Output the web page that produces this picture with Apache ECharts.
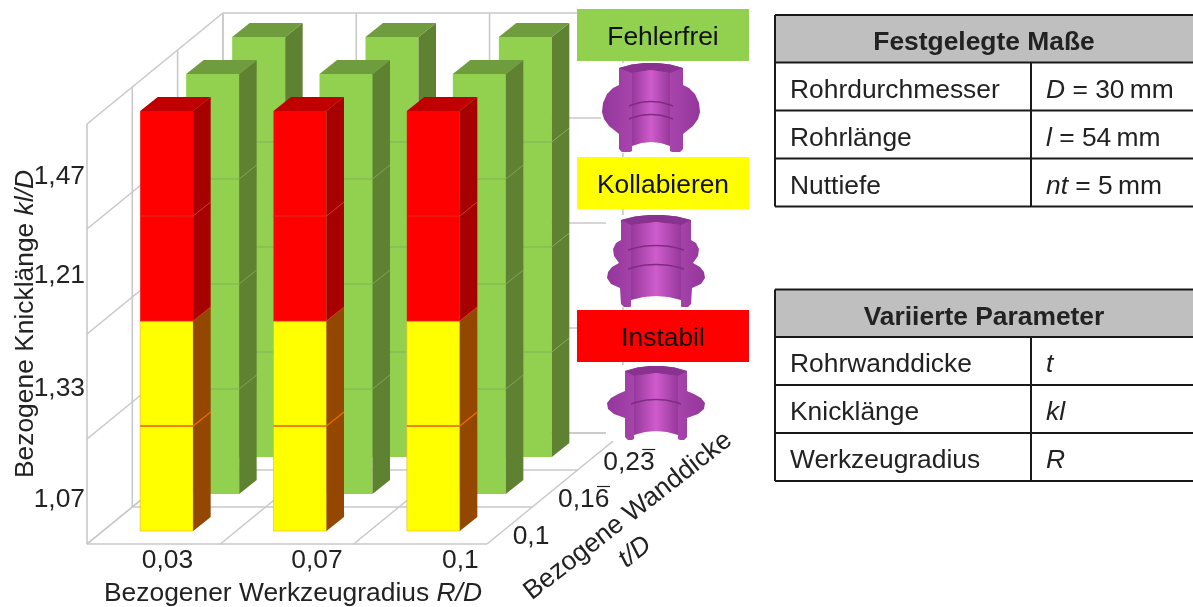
<!DOCTYPE html>
<html>
<head>
<meta charset="utf-8">
<style>
  html, body { margin: 0; padding: 0; background: #fff; }
  #chart { width: 1193px; height: 607px; }
</style>
<script src="https://cdn.jsdelivr.net/npm/echarts@6/dist/echarts.min.js"></script>
</head>
<body>
<div id="chart"></div>
<script>
const radiusLabels = ['0,03', '0,07', '0,1']
const thicknessLabels = ['0,1', '0,16', '0,23']
const thicknessOverbar = [false, true, true]
const lengthLabels = ['1,07', '1,33', '1,21', '1,47']

// Zustand je Knicklänge (von unten nach oben), eine Liste je Wanddicke
const thick010 = ['Kollabieren', 'Kollabieren', 'Instabil', 'Instabil']
const thick016 = ['Fehlerfrei', 'Fehlerfrei', 'Fehlerfrei', 'Fehlerfrei']
const thick023 = ['Fehlerfrei', 'Fehlerfrei', 'Fehlerfrei', 'Fehlerfrei']
const stateRows = [thick010, thick016, thick023]

const fixedTitle = 'Festgelegte Maße'
const fixedNames = ['Rohrdurchmesser', 'Rohrlänge', 'Nuttiefe']
const fixedSymbols = ['D', 'l', 'nt']
const fixedValues = [' = 30\u2009mm', ' = 54\u2009mm', ' = 5\u2009mm']
const variedTitle = 'Variierte Parameter'
const variedNames = ['Rohrwanddicke', 'Knicklänge', 'Werkzeugradius']
const variedSymbols = ['t', 'kl', 'R']

const FONT = '"Liberation Sans", Arial, sans-serif'
const FS = 26.4
const TEXT = '#222'
const GRID = '#c9c9c9'

// Beschriftung sitzt im Original versetzt zu den Zellen
const radiusLabelPos = [0.104, 1.225, 2.3]
const lengthLabelPos = [0.419, 1.476, 2.552, 3.495]

const colors = {
  Fehlerfrei: { front: '#92d050', side: '#5f8232', top: '#6f9c3c', edge: '#7fa95a', stroke: 'none' },
  Kollabieren: { front: '#ffff00', side: '#934700', top: '#934700', edge: '#e86a00', stroke: '#f6a93a' },
  Instabil: { front: '#ff0000', side: '#a60000', top: '#c00000', edge: '#d8382a', stroke: 'none' }
}

// Schrägbild: Versatz je Tiefenschritt
const wallDx = 45.3, wallDy = 37
const barDx = 46, barDy = 37, barFrontDx = 13, barFrontDy = 13
const barW = 53, barSideDx = 17.5, barSideDy = 14

const barData = []
for (let row = stateRows.length - 1; row >= 0; row--) {
  radiusLabels.forEach((r, col) => {
    stateRows[row].forEach((state, level) => barData.push([col, level, row]))
  })
}

const renderBar = (params, api) => {
  const col = api.value(0), level = api.value(1), row = api.value(2)
  const state = stateRows[row][level]
  const c = colors[state]
  const base = api.coord([col, level])
  const upper = api.coord([col, level + 1])
  const left = base[0] + barFrontDx + row * barDx - barW / 2
  const right = left + barW
  const shift = barFrontDy + row * barDy
  const y0 = base[1] - shift, y1 = upper[1] - shift
  const children = [
    { type: 'rect', shape: { x: left, y: y1, width: barW, height: y0 - y1 }, style: { fill: c.front, stroke: c.stroke, lineWidth: 0.6 } },
    { type: 'polygon', shape: { points: [[right, y0], [right + barSideDx, y0 - barSideDy], [right + barSideDx, y1 - barSideDy], [right, y1]] }, style: { fill: c.side } }
  ]
  if (level > 0) {
    children.push({ type: 'polyline', shape: { points: [[left, y0], [right, y0], [right + barSideDx, y0 - barSideDy]] }, style: { stroke: c.edge, fill: 'none', lineWidth: state === 'Kollabieren' ? 1.4 : 1, opacity: state === 'Kollabieren' ? 1 : 0.8 } })
  }
  if (level === stateRows[row].length - 1) {
    children.push({ type: 'polygon', shape: { points: [[left, y1], [left + barSideDx, y1 - barSideDy], [right + barSideDx, y1 - barSideDy], [right, y1]] }, style: { fill: c.top } })
  }
  return { type: 'group', children }
}

// Wände und Boden des 3D-Rahmens
const renderFrame = (params, api) => {
  const lines = []
  const seg = (a, b) => lines.push({ type: 'line', shape: { x1: a[0], y1: a[1], x2: b[0], y2: b[1] }, style: { stroke: GRID, lineWidth: 1.6 } })
  const depth = stateRows.length
  const backDx = depth * wallDx, backDy = depth * wallDy
  const o = api.coord([-0.5, 0]), r = api.coord([radiusLabels.length - 0.5, 0])
  for (let lv = 0; lv <= lengthLabels.length; lv++) {
    const p = api.coord([-0.5, lv])
    seg(p, [p[0] + backDx, p[1] - backDy])
    seg([p[0] + backDx, p[1] - backDy], [r[0] + backDx, p[1] - backDy])
  }
  const top = api.coord([-0.5, lengthLabels.length])
  for (let d = 0; d <= depth; d++) {
    seg([o[0] + d * wallDx, o[1] - d * wallDy], [o[0] + d * wallDx, top[1] - d * wallDy])
    seg([o[0] + d * wallDx, o[1] - d * wallDy], [r[0] + d * wallDx, o[1] - d * wallDy])
  }
  for (let c = 0; c <= radiusLabels.length; c++) {
    const b = api.coord([c - 0.5, 0])
    seg(b, [b[0] + backDx, b[1] - backDy])
    seg([b[0] + backDx, b[1] - backDy], [b[0] + backDx, top[1] - backDy])
  }
  return { type: 'group', children: lines }
}

const renderDepthLabel = (params, api) => {
  const row = api.value(0)
  const r = api.coord([radiusLabels.length - 0.5, 0])
  const x = r[0] + (row + 0.5) * wallDx + 3
  const y = r[1] - (row + 0.5) * wallDy + 11
  const children = [{
    type: 'text',
    style: { x, y, text: thicknessLabels[row], font: `${FS}px ${FONT}`, fill: TEXT, align: 'left', verticalAlign: 'middle' }
  }]
  // Periodenstrich über der letzten Ziffer
  if (thicknessOverbar[row]) {
    children.push({ type: 'line', shape: { x1: x + 39, y1: y - 13, x2: x + 52, y2: y - 13 }, style: { stroke: TEXT, lineWidth: 1.2 } })
  }
  return { type: 'group', children }
}

const richStyles = {
  i: { fontFamily: FONT, fontSize: FS, fontStyle: 'italic', fill: TEXT },
  n: { fontFamily: FONT, fontSize: FS, fill: TEXT }
}
const txt = (x, y, text, extra = {}) => ({
  type: 'text', x, y: y + 3, z: 20,
  style: Object.assign({
    text, fontFamily: FONT, fontSize: FS, fill: TEXT, verticalAlign: 'middle', align: 'left', rich: richStyles
  }, extra)
})
const hline = (x1, x2, y, w = 2) => ({ type: 'line', z: 20, shape: { x1, y1: y, x2, y2: y }, style: { stroke: '#1a1a1a', lineWidth: w } })
const vline = (x, y1, y2, w = 2) => ({ type: 'line', z: 20, shape: { x1: x, y1, x2: x, y2 }, style: { stroke: '#1a1a1a', lineWidth: w } })

const buildTable = (top, title, names, symbols, values) => {
  const left = 775, mid = 1031, right = 1193, head = 47.5, rowH = 48
  const bottom = top + head + rowH * names.length
  const els = [
    { type: 'rect', z: 19, shape: { x: left, y: top, width: right - left, height: head }, style: { fill: '#bfbfbf' } },
    txt(984, top + head / 2 + 1, title, { fontWeight: 'bold', align: 'center' }),
    vline(left, top, bottom), vline(mid, top + head, bottom), hline(left, right, top), hline(left, right, top + head)
  ]
  names.forEach((name, i) => {
    const y = top + head + rowH * i
    els.push(hline(left, right, y + rowH))
    els.push(txt(790, y + rowH / 2 + 1, name))
    els.push(txt(1046, y + rowH / 2 + 1, `{i|${symbols[i]}}{n|${values ? values[i] : ''}}`))
  })
  return els
}

const legendBox = (y, label, fill) => [
  { type: 'rect', z: 18, shape: { x: 577, y, width: 172, height: 52 }, style: { fill } },
  txt(663, y + 26, label, { align: 'center', fill: '#111' })
]

// Schnittbild des Rohrs, symmetrisch um cx
const mirror = (cx, pts) => pts.concat(pts.slice().reverse().map(p => [2 * cx - p[0], p[1]]))

const tubeIcon = (cx, bg, halfOuter, halfInner, topY, bottomY, outline, seams) => {
  const hGrad = (a, b) => ({ type: 'linear', x: 0, y: 0, x2: 1, y2: 0, colorStops: [{ offset: 0, color: a }, { offset: 0.5, color: b }, { offset: 1, color: a }] })
  const els = [{ type: 'rect', z: 16, shape: { x: cx - 50, y: bg[0], width: 104, height: bg[1] - bg[0] }, style: { fill: '#fff' } }]
  const top = [[cx - halfOuter, topY + 5], [cx - halfOuter * 0.6, topY + 1.5], [cx - halfOuter * 0.2, topY]]
  els.push({ type: 'polygon', z: 17, shape: { points: mirror(cx, outline.slice().reverse().concat(top)) }, style: { fill: hGrad('#93369a', '#b64fba') } })
  els.push({ type: 'polygon', z: 17, shape: { points: mirror(cx, top.concat([])).concat([[cx + halfInner, topY + 10], [cx, topY + 7], [cx - halfInner, topY + 10]]) }, style: { fill: '#8a3290' } })
  els.push({ type: 'polygon', z: 17, shape: { points: [[cx - halfInner, topY + 10], [cx, topY + 7], [cx + halfInner, topY + 10], [cx + halfInner, bottomY + 1], [cx, bottomY - 3], [cx - halfInner, bottomY + 1]] }, style: { fill: hGrad('#96389c', '#cf5ccc') } })
  // weißer Ausschnitt unten
  els.push({ type: 'polygon', z: 17, shape: { points: [[cx - halfInner, bottomY - 1], [cx - halfInner * 0.5, bottomY - 4], [cx, bottomY - 5], [cx + halfInner * 0.5, bottomY - 4], [cx + halfInner, bottomY - 1], [cx + halfInner, bottomY + 7], [cx - halfInner, bottomY + 7]] }, style: { fill: '#fff' } })
  seams.forEach(y => {
    els.push({ type: 'polyline', z: 17, shape: { points: [[cx - halfInner - 3, y + 4], [cx - halfInner * 0.4, y], [cx + halfInner * 0.4, y], [cx + halfInner + 3, y + 4]], smooth: 0.4 }, style: { stroke: '#7e2b84', fill: 'none', lineWidth: 1.4 } })
  })
  return els
}

const graphics = [
  ...legendBox(9, 'Fehlerfrei', '#92d050'),
  ...legendBox(157, 'Kollabieren', '#ffff00'),
  ...legendBox(310, 'Instabil', '#ff0000'),
  ...tubeIcon(651, [63, 153], 32, 19, 63, 147,
    [[619, 72], [619, 85], [613, 88], [607, 94], [603, 103], [602, 112], [604, 119], [609, 126], [614, 130], [619, 134], [619, 149], [622, 152], [630, 152], [632, 151]], [102, 115]),
  ...tubeIcon(656, [215, 307], 35, 25, 215, 301,
    [[621, 224], [621, 240], [616, 243], [613, 249], [614, 256], [619, 263], [612, 267], [608, 272], [607, 278], [611, 284], [620, 288], [621, 304], [624, 307], [630, 307], [632, 306]], [246, 265]),
  ...tubeIcon(656, [365, 441], 31, 22, 366, 436,
    [[625, 376], [625, 391], [618, 394], [611, 398], [607, 403], [608, 409], [614, 414], [625, 418], [625, 437], [628, 440], [632, 440], [634, 439]], [400])
]
const tableEls = [
  ...buildTable(15, fixedTitle, fixedNames, fixedSymbols, fixedValues),
  ...buildTable(289.5, variedTitle, variedNames, variedSymbols, null),
  txt(104, 591, '{n|Bezogener Werkzeugradius }{i|R/D}'),
  Object.assign(txt(26, 321, '{n|Bezogene Knicklänge }{i|kl/D}', { align: 'center' }), { rotation: Math.PI / 2 }),
  Object.assign(txt(628, 513, '{n|Bezogene Wanddicke}', { align: 'center' }), { rotation: 38 * Math.PI / 180 }),
  Object.assign(txt(635, 549, '{i|t/D}', { align: 'center' }), { rotation: 38 * Math.PI / 180 })
]

const chart = echarts.init(document.getElementById('chart'))
chart.setOption({
  animation: false,
  backgroundColor: '#fff',
  grid: { left: 87, top: 124, width: 400, height: 420 },
  xAxis: {
    type: 'value', min: -0.5, max: 2.5,
    axisLine: { show: false },
    axisTick: { show: false },
    splitLine: { show: false },
    axisLabel: {
      customValues: radiusLabelPos,
      formatter: v => radiusLabels[radiusLabelPos.indexOf(v)],
      color: TEXT, fontFamily: FONT, fontSize: FS, margin: 4
    }
  },
  yAxis: {
    type: 'value', min: 0, max: 4,
    axisLine: { show: false },
    axisTick: { show: false },
    splitLine: { show: false },
    axisLabel: {
      customValues: lengthLabelPos,
      formatter: v => lengthLabels[lengthLabelPos.indexOf(v)],
      color: TEXT, fontFamily: FONT, fontSize: FS, margin: 2
    }
  },
  graphic: graphics.concat(tableEls),
  series: [
    { type: 'custom', silent: true, clip: false, z: 1, data: [[0, 0]], renderItem: renderFrame },
    { type: 'custom', silent: true, clip: false, z: 2, data: barData, encode: { x: 0, y: 1 }, renderItem: renderBar },
    { type: 'custom', silent: true, clip: false, z: 3, data: thicknessLabels.map((t, i) => [i, 0]), renderItem: renderDepthLabel }
  ]
})
</script>
</body>
</html>
